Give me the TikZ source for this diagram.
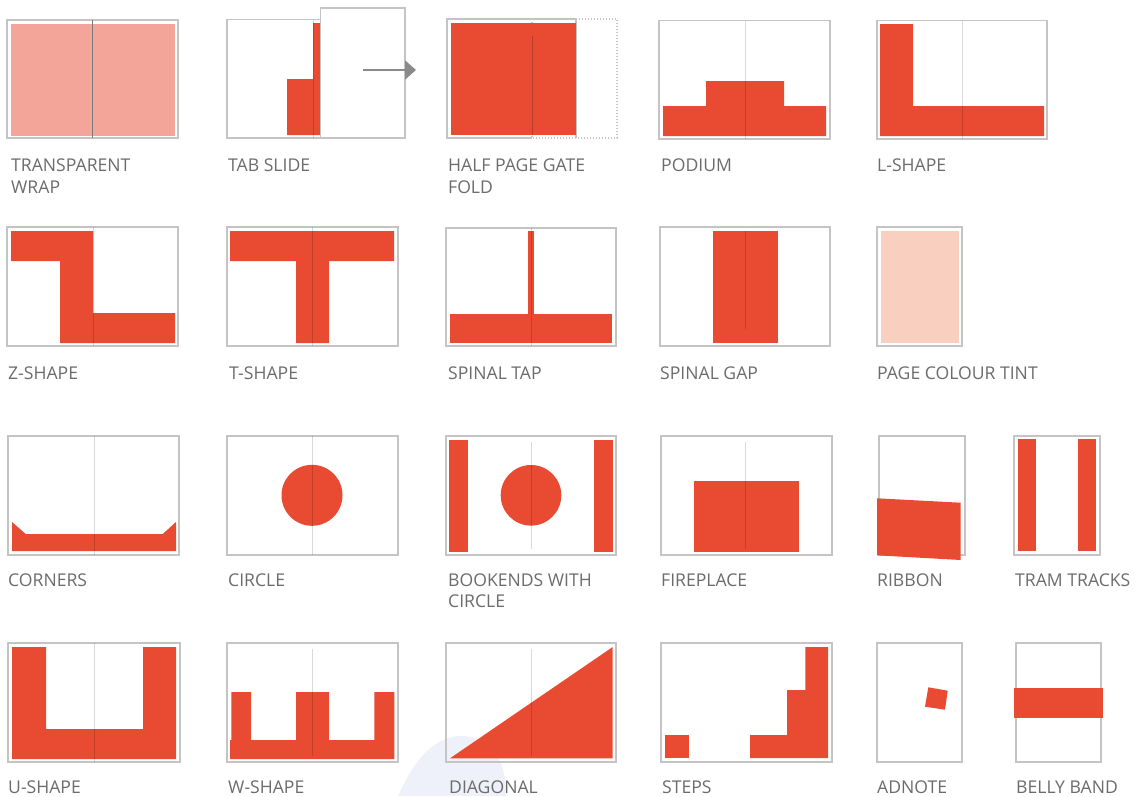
\documentclass[tikz,border=0pt]{standalone}
\usepackage{fontspec}
\newfontfamily\labfont{Open Sans}
\usetikzlibrary{arrows.meta}
\definecolor{redc}{HTML}{E84A32}
\definecolor{pinkc}{HTML}{F4A59A}
\definecolor{tintc}{HTML}{F9D0C0}
\definecolor{boxgray}{HTML}{C4C4C4}
\definecolor{labgray}{HTML}{6C6C6C}
\definecolor{arrowgray}{HTML}{8A8A8A}
\definecolor{bluebg}{HTML}{EEF1FA}
\tikzset{
  pagebox/.style={draw=boxgray, line width=1.3pt},
  redfill/.style={fill=redc},
  spine/.style={draw=black, draw opacity=0.15, line width=1pt},
  lab/.style={anchor=base west, inner sep=0pt, text=labgray, font=\labfont\fontsize{17.6}{21}\selectfont},
}
\begin{document}
\begin{tikzpicture}[x=1pt,y=-1pt]
\fill[white] (0,0) rectangle (1135,796);
\useasboundingbox (0,0) rectangle (1135,796);
% faint background shape
\fill[bluebg] (398,796) .. controls (415,758) and (435,737) .. (460,736) .. controls (490,735) and (507,760) .. (506,796) -- cycle;

% ---------- Row 1 ----------
% Transparent wrap
\draw[pagebox] (7,20) rectangle (178,138);
\fill[pinkc] (11,24) rectangle (175,136);
\draw[draw={rgb,255:red,122;green,122;blue,122}, line width=1pt] (92,20) -- (92,138);
\node[lab] (l1) at (11,171) {TRANSPARENT};
\node[lab] (l1b) at (11,193) {WRAP};

% Tab slide
\draw[pagebox] (227,19.5) rectangle (398,138);
\fill[redc] (287,79) -- (313,79) -- (313,23) -- (321,23) -- (321,135) -- (287,135) -- cycle;
\draw[spine] (313,19.5) -- (313,138);
\draw[pagebox, fill=white] (320.5,8) rectangle (405,138);
\coordinate (arrA) at (363,70);
\coordinate (arrB) at (416,70);
\draw[arrowgray, line width=2pt, -{Triangle[length=11pt,width=19pt]}] (arrA) -- (arrB);
\node[lab] (l2) at (228,171) {TAB SLIDE};

% Half page gate fold
\draw[boxgray, line width=1.2pt, dash pattern=on 1.4pt off 1.6pt] (532,19) rectangle (617,138);
\draw[pagebox] (532,138) -- (447,138) -- (447,19) -- (576,19) -- (576,138);
\fill[redc] (451,23) rectangle (576,135);
\draw[spine, draw opacity=0.2] (532,36) -- (532,135);
\node[lab] (l3) at (448,171) {HALF PAGE GATE};
\node[lab] (l3b) at (448,193) {FOLD};

% Podium
\draw[pagebox] (659,20.5) rectangle (830,139);
\fill[redc] (663,136) -- (663,106) -- (706,106) -- (706,81) -- (784,81) -- (784,106) -- (826,106) -- (826,136) -- cycle;
\draw[spine] (745,20.5) -- (745,139);
\node[lab] (l4) at (661,171) {PODIUM};

% L-shape
\draw[pagebox] (877,20.5) rectangle (1047,139);
\fill[redc] (880,24) -- (913,24) -- (913,106) -- (1044,106) -- (1044,136) -- (880,136) -- cycle;
\draw[spine] (962,20.5) -- (962,139);
\node[lab] (l5) at (877,171) {L-SHAPE};

% ---------- Row 2 ----------
% Z-shape
\draw[pagebox] (7,227) rectangle (178,346);
\fill[redc] (11,231) -- (93,231) -- (93,313) -- (175,313) -- (175,343) -- (60,343) -- (60,261) -- (11,261) -- cycle;
\draw[spine] (93,227) -- (93,346);
\node[lab] (l6) at (8,379) {Z-SHAPE};

% T-shape
\draw[pagebox] (227,227) rectangle (398,346);
\fill[redc] (230,231) -- (394,231) -- (394,261) -- (329,261) -- (329,343) -- (296,343) -- (296,261) -- (230,261) -- cycle;
\draw[spine] (312,227) -- (312,346);
\node[lab] (l7) at (229,379) {T-SHAPE};

% Spinal tap
\draw[pagebox] (446,228) rectangle (616,346);
\fill[redc] (528,231) rectangle (534,314);
\fill[redc] (450,314) rectangle (612,343);
\draw[spine] (531,228) -- (531,346);
\node[lab] (l8) at (448,379) {SPINAL TAP};

% Spinal gap
\draw[pagebox] (660,227) rectangle (830,346);
\fill[redc] (713,231) rectangle (778,343);
\draw[spine] (745,231) -- (745,329);
\node[lab] (l9) at (660,379) {SPINAL GAP};

% Page colour tint
\draw[pagebox] (877,227) rectangle (962,346);
\fill[tintc] (881,231) rectangle (959,343);
\node[lab] (l10) at (877,379) {PAGE COLOUR TINT};

% ---------- Row 3 ----------
% Corners
\draw[pagebox] (8,436) rectangle (179,555);
\fill[redc] (12,522) -- (25.7,534) -- (162.7,534) -- (176,522) -- (176,551) -- (12,551) -- cycle;
\draw[spine] (94,436) -- (94,555);
\node[lab] (l11) at (8,586.5) {CORNERS};

% Circle
\draw[pagebox] (227,436) rectangle (398,555);
\fill[redc] (312,495.3) circle[radius=30.5pt];
\draw[spine] (312,436) -- (312,555);
\node[lab] (l12) at (228,586.5) {CIRCLE};

% Bookends with circle
\draw[pagebox] (446,436) rectangle (616,555);
\fill[redc] (449,440) rectangle (468,552);
\fill[redc] (594,440) rectangle (613,552);
\fill[redc] (531,495.3) circle[radius=30.3pt];
\draw[spine] (531,442) -- (531,549);
\node[lab] (l13) at (448,586.5) {BOOKENDS WITH};
\node[lab] (l13b) at (448,607.5) {CIRCLE};

% Fireplace
\draw[pagebox] (661,436) rectangle (832,555);
\fill[redc] (694,481) rectangle (799,552);
\draw[spine] (745.3,442) -- (745.3,549);
\node[lab] (l14) at (661,586.5) {FIREPLACE};

% Ribbon
\draw[pagebox] (879,436) rectangle (965,555);
\fill[redc] (877,498.3) -- (960.7,502.7) -- (960.7,560) -- (877,555.3) -- cycle;
\node[lab] (l15) at (877,586.5) {RIBBON};

% Tram tracks
\draw[pagebox] (1014,436) rectangle (1100,555);
\fill[redc] (1018,439) rectangle (1036,551);
\fill[redc] (1078,439) rectangle (1096,551);
\node[lab] (l16) at (1015,586.5) {TRAM TRACKS};

% ---------- Row 4 ----------
% U-shape
\draw[pagebox] (8,643) rectangle (180,762);
\fill[redc] (12,647) -- (46,647) -- (46,729) -- (143,729) -- (143,647) -- (176,647) -- (176,759) -- (12,759) -- cycle;
\draw[spine] (94.7,643) -- (94.7,762);
\node[lab] (l17) at (8,793) {U-SHAPE};

% W-shape
\draw[pagebox] (227,643) rectangle (398,762);
\fill[redc] (230,759) -- (230,740) -- (231.3,740) -- (231.3,692) -- (251,692) -- (251,740) -- (296,740) -- (296,692) -- (329,692) -- (329,740) -- (374.3,740) -- (374.3,692) -- (394.3,692) -- (394.3,759) -- cycle;
\draw[spine] (312.3,649) -- (312.3,756);
\node[lab] (l18) at (228,793) {W-SHAPE};

% Diagonal
\draw[pagebox] (446,643) rectangle (616,762);
\fill[redc] (450,758.3) -- (612.7,647) -- (612.7,758.3) -- cycle;
\draw[spine] (531.7,649) -- (531.7,756);
\node[lab] (l19) at (449,793) {DIAGONAL};

% Steps
\draw[pagebox] (661,643) rectangle (832,762);
\fill[redc] (665,735) rectangle (689,758);
\fill[redc] (750,758) -- (750,735) -- (787,735) -- (787,690) -- (805.3,690) -- (805.3,647) -- (828,647) -- (828,758) -- cycle;
\node[lab] (l20) at (662,793) {STEPS};

% Adnote
\draw[pagebox] (877,643) rectangle (962,762);
\fill[redc] (928.3,687.3) -- (947.7,690.7) -- (945,709.7) -- (925,706.7) -- cycle;
\node[lab] (l21) at (877,793) {ADNOTE};

% Belly band
\draw[pagebox] (1016,643) rectangle (1101,762);
\fill[redc] (1014,688) rectangle (1103,718);
\node[lab] (l22) at (1016,793) {BELLY BAND};
\end{tikzpicture}
\end{document}
